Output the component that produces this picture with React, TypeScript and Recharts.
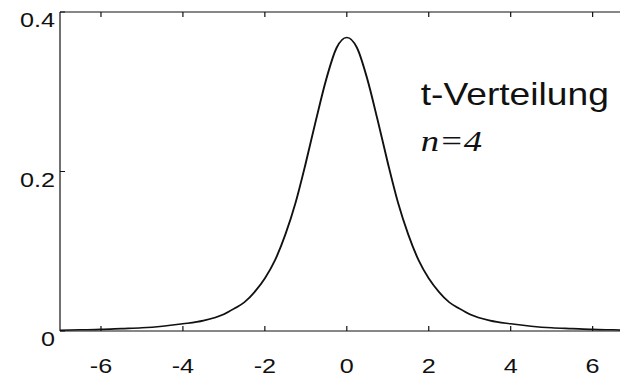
import { Line, LineChart, XAxis, YAxis } from "recharts";

// Student t density, four degrees of freedom
const tValues = [
  -7, -6.5, -6, -5.5, -5, -4.5, -4, -3.5, -3, -2.75, -2.5, -2.25, -2, -1.75,
  -1.5, -1.25, -1, -0.75, -0.5, -0.25, 0, 0.25, 0.5, 0.75, 1, 1.25, 1.5, 1.75,
  2, 2.25, 2.5, 2.75, 3, 3.5, 4, 4.5, 5, 5.5, 6, 6.5, 7,
];
const density = [
  0.001, 0.0015, 0.002, 0.003, 0.004, 0.006, 0.009, 0.013, 0.021, 0.028, 0.036,
  0.049, 0.066, 0.089, 0.121, 0.161, 0.211, 0.265, 0.316, 0.355, 0.368, 0.355,
  0.316, 0.265, 0.211, 0.161, 0.121, 0.089, 0.066, 0.049, 0.036, 0.028, 0.021,
  0.013, 0.009, 0.006, 0.004, 0.003, 0.002, 0.0015, 0.001,
];
const xTicks = [-6, -4, -2, 0, 2, 4, 6];
const yTicks = [0, 0.2, 0.4];

const title = "t-Verteilung";
const subtitle = "n=4";

const data = tValues.map((t, i) => ({ t, p: density[i] }));

const INK = "#111";
const SANS = "'Liberation Sans', Arial, sans-serif";
const STRETCH = 1.2;

const BottomTick = ({ x, y, payload }: any) => (
  <g>
    <line x1={x} x2={x} y1={y} y2={y - 5} stroke={INK} strokeWidth={1} />
    <text x={x} y={y + 42.5} textAnchor="middle" fontFamily={SANS} fontSize={21} fill={INK}>
      {payload.value}
    </text>
  </g>
);

const TopTick = ({ x, y }: any) => (
  <line x1={x} x2={x} y1={y} y2={y + 5} stroke={INK} strokeWidth={1} />
);

const LeftTick = ({ x, y, payload }: any) => (
  <g>
    <line x1={x} x2={x + 4.2} y1={y} y2={y} stroke={INK} strokeWidth={1} />
    <text x={x - 4.2} y={y + 15.5} textAnchor="end" fontFamily={SANS} fontSize={21} fill={INK}>
      {payload.value}
    </text>
  </g>
);

export default function App() {
  return (
    <div
      style={{
        position: "fixed",
        left: 0,
        top: 0,
        width: 620,
        height: 378,
        overflow: "hidden",
        background: "#fff",
      }}
    >
      <div
        style={{
          position: "relative",
          width: 530,
          height: 378,
          transform: `scaleX(${STRETCH})`,
          transformOrigin: "0 0",
        }}
      >
        <LineChart
          width={530}
          height={378}
          data={data}
          margin={{ top: 2, right: 2, bottom: 0, left: 0 }}
        >
          <XAxis
            dataKey="t"
            type="number"
            domain={[-7, 7]}
            ticks={xTicks}
            height={47}
            tickSize={0}
            tickMargin={0}
            tickLine={false}
            tick={<BottomTick />}
            axisLine={{ stroke: INK, strokeWidth: 1 }}
            allowDataOverflow
          />
          <XAxis
            xAxisId="top"
            orientation="top"
            dataKey="t"
            type="number"
            domain={[-7, 7]}
            ticks={xTicks}
            height={10}
            tickSize={0}
            tickMargin={0}
            tickLine={false}
            tick={<TopTick />}
            axisLine={{ stroke: INK, strokeWidth: 1 }}
            allowDataOverflow
          />
          <YAxis
            type="number"
            domain={[0, 0.4]}
            ticks={yTicks}
            width={50}
            tickSize={0}
            tickMargin={0}
            tickLine={false}
            tick={<LeftTick />}
            axisLine={{ stroke: INK, strokeWidth: 1 }}
            allowDataOverflow
          />
          <Line
            dataKey="p"
            type="monotone"
            stroke={INK}
            strokeWidth={1.6}
            dot={false}
            isAnimationActive={false}
          />
        </LineChart>
        <svg
          width={530}
          height={378}
          style={{ position: "absolute", left: 0, top: 0, pointerEvents: "none" }}
        >
          <text x={350.6} y={105} fontFamily={SANS} fontSize={31} fill={INK}>
            {title}
          </text>
          <text
            x={350.6}
            y={150.7}
            fontFamily="'Liberation Serif', 'Times New Roman', serif"
            fontStyle="italic"
            fontSize={30.5}
            fill={INK}
          >
            {subtitle}
          </text>
        </svg>
      </div>
    </div>
  );
}
